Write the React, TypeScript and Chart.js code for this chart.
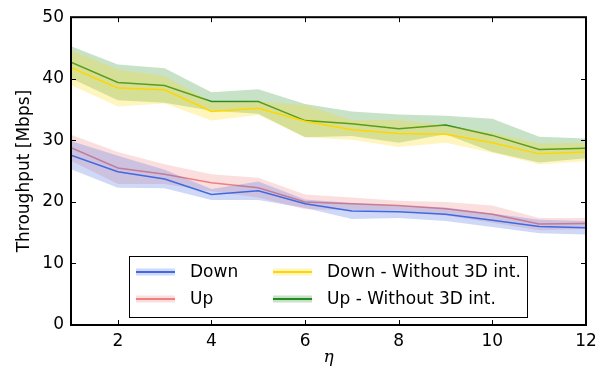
import React, { useEffect, useRef } from "react";
import { Chart, registerables } from "chart.js";

Chart.register(...registerables);

const etaValues = [1, 2, 3, 4, 5, 6, 7, 8, 9, 10, 11, 12];
const xTickValues = [2, 4, 6, 8, 10, 12];
const yTickValues = [0, 10, 20, 30, 40, 50];

const downMean = [27.6, 24.9, 23.7, 21.2, 21.8, 19.7, 18.5, 18.4, 18.0, 17.0, 16.0, 15.8];
const downStd = [2.3, 2.6, 1.5, 0.9, 1.5, 0.7, 1.3, 1.0, 1.1, 1.1, 1.1, 1.1];
const upMean = [28.8, 25.5, 24.5, 23.1, 22.3, 20.0, 19.7, 19.4, 18.9, 18.0, 16.4, 16.5];
const upStd = [2.1, 2.6, 1.6, 1.4, 1.6, 1.2, 1.0, 0.8, 1.1, 1.4, 1.0, 0.9];
const downNo3DMean = [41.8, 38.5, 38.2, 34.7, 35.2, 33.1, 31.7, 31.1, 31.0, 29.6, 27.8, 28.1];
const downNo3DStd = [2.8, 3.0, 2.2, 1.5, 1.1, 2.6, 1.6, 2.2, 1.4, 1.6, 1.7, 1.5];
const upNo3DMean = [42.7, 39.4, 38.9, 36.3, 36.3, 33.2, 32.7, 31.9, 32.5, 30.8, 28.5, 28.7];
const upNo3DStd = [2.6, 2.9, 2.8, 1.5, 2.0, 2.7, 2.0, 2.3, 1.5, 2.7, 2.1, 1.6];

const seriesLabels = ["Down", "Up", "Down - Without 3D int.", "Up - Without 3D int."];
const seriesColors = ["65,105,225", "240,128,128", "255,215,0", "34,139,34"];

const FONT = "'DejaVu Sans', Verdana, sans-serif";

function App() {
  const ref = useRef<HTMLCanvasElement | null>(null);

  useEffect(() => {
    if (!ref.current) return;
    const means = [downMean, upMean, downNo3DMean, upNo3DMean];
    const stds = [downStd, upStd, downNo3DStd, upNo3DStd];
    const datasets: any[] = [];
    means.forEach((m, i) => {
      const c = seriesColors[i];
      datasets.push({
        label: seriesLabels[i] + " upper",
        data: etaValues.map((x, k) => ({ x, y: m[k] + stds[i][k] })),
        borderWidth: 0,
        pointRadius: 0,
        backgroundColor: `rgba(${c},0.25)`,
        fill: "+1",
        tension: 0,
      });
      datasets.push({
        label: seriesLabels[i] + " lower",
        data: etaValues.map((x, k) => ({ x, y: m[k] - stds[i][k] })),
        borderWidth: 0,
        pointRadius: 0,
        fill: false,
        tension: 0,
      });
      datasets.push({
        label: seriesLabels[i],
        data: etaValues.map((x, k) => ({ x, y: m[k] })),
        borderColor: `rgb(${c})`,
        borderWidth: 1.5,
        pointRadius: 0,
        fill: false,
        tension: 0,
      });
    });

    const framePlugin = {
      id: "frameTicks",
      afterDatasetsDraw(chart: any) {
        const { ctx, chartArea: a, scales } = chart;
        ctx.save();
        ctx.strokeStyle = "#000";
        ctx.lineWidth = 1;
        const tl = 5;
        xTickValues.forEach((v) => {
          const px = Math.round(scales.x.getPixelForValue(v)) + 0.5;
          ctx.beginPath();
          ctx.moveTo(px, a.bottom);
          ctx.lineTo(px, a.bottom - tl);
          ctx.moveTo(px, a.top);
          ctx.lineTo(px, a.top + tl);
          ctx.stroke();
        });
        yTickValues.forEach((v) => {
          const py = Math.round(scales.y.getPixelForValue(v)) + 0.5;
          ctx.beginPath();
          ctx.moveTo(a.left, py);
          ctx.lineTo(a.left + tl, py);
          ctx.moveTo(a.right, py);
          ctx.lineTo(a.right - tl, py);
          ctx.stroke();
        });
        ctx.lineWidth = 2;
        ctx.strokeRect(a.left, a.top, a.right - a.left, a.bottom - a.top);
        ctx.restore();
      },
      afterDraw(chart: any) {
        const { ctx, chartArea: a } = chart;
        const bx = a.left + 58;
        const by = a.bottom - 69;
        const bw = 398;
        const bh = 61;
        ctx.save();
        ctx.fillStyle = "#fff";
        ctx.fillRect(bx, by, bw, bh);
        ctx.strokeStyle = "#000";
        ctx.lineWidth = 1;
        ctx.strokeRect(bx + 0.5, by + 0.5, bw, bh);
        const cols = [7, 144];
        const textOff = [61, 198];
        const rows = [16, 43];
        const order = [
          [0, 0],
          [1, 0],
          [0, 1],
          [1, 1],
        ];
        ctx.font = `17px ${FONT}`;
        ctx.textBaseline = "middle";
        ctx.textAlign = "left";
        seriesLabels.forEach((lab, i) => {
          const [r, col] = order[i];
          const c = seriesColors[i];
          const x0 = bx + cols[col];
          const y0 = by + rows[r];
          ctx.fillStyle = `rgba(${c},0.25)`;
          ctx.fillRect(x0, y0 - 3.5, 39, 7);
          ctx.strokeStyle = `rgb(${c})`;
          ctx.lineWidth = 2;
          ctx.beginPath();
          ctx.moveTo(x0, y0);
          ctx.lineTo(x0 + 39, y0);
          ctx.stroke();
          ctx.fillStyle = "#000";
          ctx.fillText(lab, bx + textOff[col], y0 + 1);
        });
        ctx.restore();
      },
    };

    const chart = new Chart(ref.current, {
      type: "line",
      data: { datasets },
      options: {
        animation: false,
        responsive: true,
        maintainAspectRatio: false,
        layout: { padding: { left: 0, top: 15, right: 20, bottom: 0 } },
        plugins: { legend: { display: false }, tooltip: { enabled: false } },
        scales: {
          x: {
            type: "linear",
            min: 1,
            max: 12,
            afterBuildTicks: (s: any) => {
              s.ticks = xTickValues.map((v) => ({ value: v }));
            },
            afterFit: (s: any) => {
              s.height = 55;
            },
            grid: { display: false, drawTicks: false },
            border: { display: false },
            ticks: {
              padding: 6,
              color: "#000",
              font: { family: FONT, size: 17 },
              maxRotation: 0,
              autoSkip: false,
            },
            title: {
              display: true,
              text: "η",
              color: "#000",
              font: { family: "'DejaVu Serif', serif", size: 17, style: "italic" },
              padding: { top: 0, bottom: 12 },
            },
          },
          y: {
            type: "linear",
            min: 0,
            max: 50,
            afterBuildTicks: (s: any) => {
              s.ticks = yTickValues.map((v) => ({ value: v }));
            },
            afterFit: (s: any) => {
              s.width = 71;
            },
            grid: { display: false, drawTicks: false },
            border: { display: false },
            ticks: {
              padding: 7,
              color: "#000",
              font: { family: FONT, size: 17 },
            },
            title: {
              display: true,
              text: "Throughput [Mbps]",
              color: "#000",
              font: { family: FONT, size: 17 },
              padding: { top: 14, bottom: 0 },
            },
          },
        },
      },
      plugins: [framePlugin],
    } as any);
    return () => chart.destroy();
  }, []);

  return (
    <div style={{ position: "absolute", left: 0, top: 0, width: 606, height: 380, background: "#fff" }}>
      <canvas ref={ref} />
    </div>
  );
}

export default App;
